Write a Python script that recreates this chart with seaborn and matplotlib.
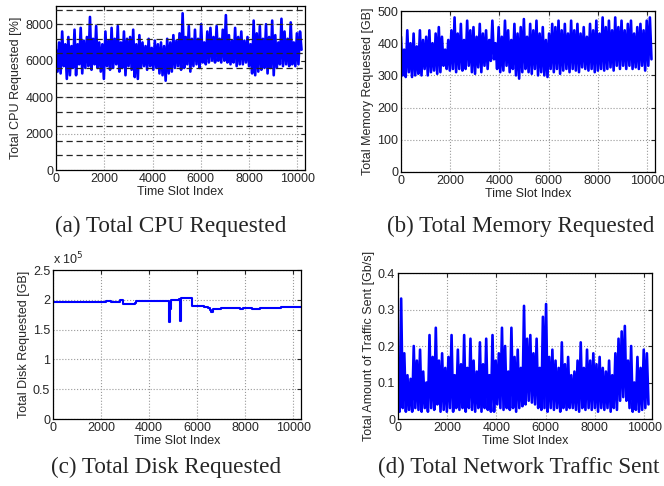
import numpy as np
import pandas as pd
import matplotlib
matplotlib.use("Agg")
import matplotlib.pyplot as plt
from matplotlib.ticker import FuncFormatter
import seaborn as sns

# ---- data -------------------------------------------------------------
slot_step = 64  # time slots between consecutive samples

cpu_requested = [
    6600, 5400, 7000, 5300, 7600, 5700, 6900, 5000, 7300, 5200,
    6800, 5600, 7700, 5200, 6900, 5800, 7800, 5300, 7100, 5600,
    7300, 5700, 8400, 5500, 7200, 5800, 7900, 5600, 7000, 5400,
    6900, 5000, 7600, 5700, 7100, 5500, 7800, 5600, 7200, 5800,
    7900, 5400, 7000, 5600, 7600, 5200, 7200, 5700, 7300, 5500,
    7700, 5100, 6900, 5000, 7400, 5600, 7000, 5700, 6800, 5500,
    7200, 5700, 6700, 5500, 7100, 5600, 6900, 5300, 7000, 5200,
    6800, 4900, 7200, 5300, 7000, 5400, 7400, 5600, 7100, 5700,
    7500, 5500, 8600, 5600, 7300, 5800, 7900, 5400, 7200, 5700,
    7700, 5800, 7200, 5600, 8000, 5900, 7000, 5800, 7600, 5900,
    7800, 6000, 7300, 5900, 7900, 6000, 7200, 5900, 7700, 6000,
    8500, 5900, 7400, 5800, 7100, 5900, 7800, 5700, 7300, 5800,
    7600, 5800, 7100, 5900, 7300, 5700, 6900, 5300, 8200, 5200,
    7500, 5400, 7900, 5500, 7200, 5600, 8000, 5300, 7300, 5600,
    8200, 5200, 7400, 5600, 7000, 5800, 8300, 5700, 7600, 5800,
    7200, 5700, 8100, 5800, 7000, 5700, 7500, 5800, 7600, 6600,
]

cpu_levels = [800, 1600, 2400, 3200, 4000, 4800, 5600, 6400, 7200, 8000, 8800]

memory_requested = [
    420, 300, 380, 295, 440, 310, 400, 295, 430, 300,
    390, 305, 440, 300, 410, 320, 420, 300, 440, 310,
    400, 315, 430, 305, 450, 310, 420, 330, 380, 320,
    410, 315, 440, 320, 480, 310, 430, 320, 460, 315,
    410, 320, 470, 330, 440, 310, 450, 305, 420, 325,
    460, 310, 430, 330, 440, 320, 410, 345, 470, 350,
    400, 320, 450, 310, 420, 315, 470, 330, 440, 310,
    410, 320, 460, 300, 430, 290, 450, 310, 475, 320,
    420, 310, 460, 305, 440, 320, 470, 300, 430, 310,
    450, 300, 410, 295, 430, 320, 460, 310, 450, 320,
    470, 305, 440, 315, 460, 320, 430, 310, 470, 320,
    440, 315, 460, 310, 430, 325, 450, 320, 420, 315,
    460, 320, 440, 310, 470, 315, 430, 320, 480, 315,
    450, 320, 470, 325, 440, 315, 480, 330, 450, 320,
    470, 330, 440, 320, 460, 330, 470, 320, 430, 325,
    450, 320, 460, 330, 440, 315, 470, 330, 480, 350,
]

network_sent = [
    0.14, 0.02, 0.33, 0.03, 0.18, 0.02, 0.12, 0.025, 0.11, 0.02,
    0.20, 0.03, 0.16, 0.025, 0.19, 0.02, 0.13, 0.03, 0.10, 0.02,
    0.23, 0.03, 0.17, 0.025, 0.25, 0.04, 0.16, 0.02, 0.18, 0.025,
    0.14, 0.02, 0.17, 0.03, 0.23, 0.02, 0.12, 0.03, 0.19, 0.025,
    0.15, 0.03, 0.23, 0.02, 0.14, 0.03, 0.22, 0.025, 0.16, 0.02,
    0.13, 0.03, 0.21, 0.02, 0.15, 0.03, 0.22, 0.025, 0.12, 0.02,
    0.23, 0.02, 0.16, 0.04, 0.18, 0.03, 0.25, 0.025, 0.20, 0.03,
    0.13, 0.025, 0.25, 0.03, 0.17, 0.02, 0.19, 0.03, 0.14, 0.035,
    0.31, 0.04, 0.22, 0.05, 0.23, 0.045, 0.18, 0.04, 0.22, 0.03,
    0.14, 0.025, 0.28, 0.03, 0.315, 0.02, 0.17, 0.03, 0.19, 0.025,
    0.16, 0.03, 0.14, 0.02, 0.21, 0.03, 0.15, 0.025, 0.17, 0.03,
    0.12, 0.03, 0.13, 0.025, 0.16, 0.02, 0.21, 0.03, 0.14, 0.025,
    0.19, 0.03, 0.16, 0.025, 0.18, 0.03, 0.15, 0.02, 0.17, 0.03,
    0.14, 0.025, 0.13, 0.03, 0.16, 0.02, 0.12, 0.03, 0.18, 0.025,
    0.22, 0.05, 0.24, 0.06, 0.255, 0.05, 0.16, 0.03, 0.20, 0.02,
    0.10, 0.025, 0.17, 0.02, 0.14, 0.025, 0.19, 0.03, 0.18, 0.04,
]

# disk usage changes only at a few slots (step-wise)
disk_slots = [0, 500, 1200, 2200, 2400, 2800, 2900, 3400, 3450, 4800, 4830,
              4880, 4900, 5250, 5280, 5320, 5800, 6300, 6450, 6520, 6560,
              6650, 7000, 7800, 7900, 8300, 8600, 9500, 10300]
disk_requested = [195500, 196000, 196500, 198000, 197000, 199000, 193500,
                  195000, 197500, 198000, 162000, 185000, 200000, 202000,
                  165000, 203000, 189000, 188000, 186000, 183000, 179000,
                  185000, 186000, 184000, 186000, 184000, 187000, 188000,
                  188000]

captions = ["(a) Total CPU Requested", "(b) Total Memory Requested",
            "(c) Total Disk Requested", "(d) Total Network Traffic Sent"]
ylabels = ["Total CPU Requested [%]", "Total Memory Requested [GB]",
           "Total Disk Requested [GB]", "Total Amount of Traffic Sent [Gb/s]"]
xlabel = "Time Slot Index"
x_ticks = [0, 2000, 4000, 6000, 8000, 10000]

# ---- style ------------------------------------------------------------
sns.set_style("white")
plt.rcParams["font.family"] = ["Liberation Sans", "DejaVu Sans"]
plt.rcParams["axes.linewidth"] = 0.9
plt.rcParams["axes.edgecolor"] = "black"

fig = plt.figure(figsize=(6.64, 4.86), dpi=100)
W, H = 664, 486


def place(l, t, r, b):
    return fig.add_axes([l / W, 1 - b / H, (r - l) / W, (b - t) / H])


ax_cpu = place(56, 6, 305, 170)
ax_mem = place(401, 11, 655, 172)
ax_disk = place(53, 270, 301, 419)
ax_net = place(398, 273, 652, 419)

blue = "#0000ff"


def series_frame(values):
    return pd.DataFrame({"slot": np.arange(len(values)) * slot_step,
                         "value": values})


def draw_series(ax, values, lw=1.9):
    sns.lineplot(data=series_frame(values), x="slot", y="value", ax=ax,
                 color=blue, lw=lw, estimator=None, sort=False)


draw_series(ax_cpu, cpu_requested)
draw_series(ax_mem, memory_requested)
draw_series(ax_net, network_sent)
disk_df = pd.DataFrame({"slot": disk_slots, "value": disk_requested})
sns.lineplot(data=disk_df, x="slot", y="value", ax=ax_disk, color=blue,
             lw=1.5, estimator=None, sort=False, drawstyle="steps-post")

for lvl in cpu_levels:
    ax_cpu.axhline(lvl, color="0.15", lw=0.9, ls=(0, (5, 3)), zorder=5)

limits = [(0, 9000, [0, 2000, 4000, 6000, 8000]),
          (0, 500, [0, 100, 200, 300, 400, 500]),
          (0, 250000, [0, 50000, 100000, 150000, 200000, 250000]),
          (0, 0.4, [0, 0.1, 0.2, 0.3, 0.4])]

axes = [ax_cpu, ax_mem, ax_disk, ax_net]
for ax, (lo, hi, yt), lab in zip(axes, limits, ylabels):
    ax.set_xlim(0, 10320)
    ax.set_ylim(lo, hi)
    ax.set_xticks(x_ticks)
    ax.set_yticks(yt)
    ax.grid(True, ls=":", color="0.6", lw=0.8)
    ax.set_axisbelow(True)
    ax.tick_params(direction="in", top=True, right=True, length=3,
                   width=0.8, labelsize=9, pad=2)
    ax.set_xlabel(xlabel, fontsize=9, labelpad=1)
    ax.set_ylabel(lab, fontsize=9, labelpad=2)
    for s in ax.spines.values():
        s.set_visible(True)

ax_disk.yaxis.set_major_formatter(FuncFormatter(lambda v, p: f"{v / 1e5:g}"))
ax_disk.text(0.0, 1.015, r"x 10$^5$", transform=ax_disk.transAxes,
             fontsize=9, ha="left", va="bottom")
ax_net.yaxis.set_major_formatter(FuncFormatter(lambda v, p: f"{v:g}"))

caption_pos = [(171, 226), (521, 226), (166, 467), (519, 467)]
for (cx, cy), cap in zip(caption_pos, captions):
    fig.text(cx / W, 1 - cy / H, cap, ha="center", va="center",
             fontsize=16.7, family=["Liberation Serif", "DejaVu Serif"])

fig.savefig("out.png", dpi=100)
